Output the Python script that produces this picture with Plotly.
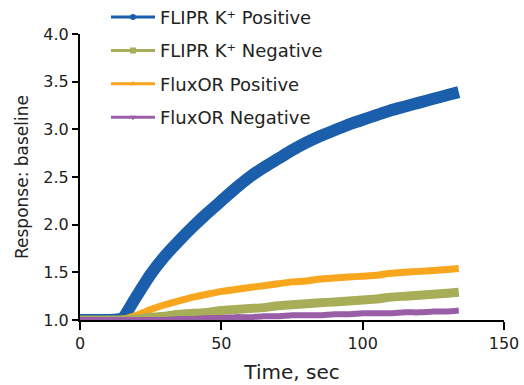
import plotly.graph_objects as go

time_sec = [0, 5, 10, 15, 20, 25, 30, 35, 40, 45, 50, 55, 60, 65, 70, 75, 80, 85,
            90, 95, 100, 105, 110, 115, 120, 125, 130, 134]
flipr_pos = [1.00, 1.00, 1.00, 1.02, 1.25, 1.48, 1.67, 1.83, 1.98, 2.12, 2.25, 2.38,
             2.50, 2.60, 2.69, 2.78, 2.86, 2.93, 2.99, 3.05, 3.10, 3.15, 3.20, 3.24,
             3.28, 3.32, 3.36, 3.39]
flipr_neg = [1.00, 1.00, 1.00, 1.00, 1.01, 1.03, 1.04, 1.06, 1.07, 1.08, 1.10, 1.11,
             1.12, 1.13, 1.15, 1.16, 1.17, 1.18, 1.19, 1.20, 1.21, 1.22, 1.24, 1.25,
             1.26, 1.27, 1.28, 1.29]
fluxor_pos = [1.00, 1.00, 1.00, 1.01, 1.05, 1.11, 1.16, 1.20, 1.24, 1.27, 1.30, 1.32,
              1.34, 1.36, 1.38, 1.40, 1.41, 1.43, 1.44, 1.45, 1.46, 1.47, 1.49, 1.50,
              1.51, 1.52, 1.53, 1.54]
fluxor_neg = [1.00, 1.00, 1.00, 1.00, 1.00, 1.00, 1.00, 1.01, 1.01, 1.02, 1.02, 1.03,
              1.03, 1.04, 1.04, 1.05, 1.05, 1.05, 1.06, 1.06, 1.07, 1.07, 1.07, 1.08,
              1.08, 1.09, 1.09, 1.10]

series_names = ["FLIPR K\u207a Positive", "FLIPR K\u207a Negative", "FluxOR Positive", "FluxOR Negative"]
series_values = [flipr_pos, flipr_neg, fluxor_pos, fluxor_neg]
x_ticks = [0, 50, 100, 150]
y_ticks = [1.0, 1.5, 2.0, 2.5, 3.0, 3.5, 4.0]
y_tick_labels = ["1.0", "1.5", "2.0", "2.5", "3.0", "3.5", "4.0"]

colors = ["#1b5eab", "#a8ad58", "#f9a61f", "#9a5ea6"]
widths = [12, 9, 7, 6]
symbols = ["circle", "square", "triangle-up", "triangle-down"]

FONT = "DejaVu Sans"
TXT = "#222222"
fig = go.Figure()

order = [0, 2, 1, 3]
for i in order:
    fig.add_trace(go.Scatter(
        x=time_sec, y=series_values[i], mode="lines",
        line=dict(color=colors[i], width=widths[i], shape="spline", smoothing=0.5),
        showlegend=False, cliponaxis=False, hoverinfo="skip",
    ))

for i in range(4):
    fig.add_trace(go.Scatter(
        x=[None], y=[None], mode="lines+markers", name=series_names[i],
        line=dict(color=colors[i], width=3),
        marker=dict(symbol=symbols[i], size=6, color=colors[i]),
        legendgroup=f"g{i}", showlegend=True,
    ))

fig.update_layout(
    width=524, height=385,
    margin=dict(l=80, r=20, t=34, b=65, autoexpand=False),
    paper_bgcolor="white", plot_bgcolor="white",
    font=dict(family=FONT, color=TXT, size=16),
    legend=dict(x=0.0613, y=1.123, xanchor="left", yanchor="top",
                bgcolor="rgba(0,0,0,0)", tracegroupgap=7,
                font=dict(size=18, color=TXT, family=FONT),
                itemwidth=44),
    xaxis=dict(range=[0, 150], tickvals=x_ticks, automargin=False,
               showgrid=False, zeroline=False, showline=True, linecolor="black",
               linewidth=2, ticks="outside", ticklen=8, tickwidth=2, tickcolor="black",
               tickfont=dict(size=16, family=FONT, color=TXT),
               title=dict(text="Time, sec", font=dict(size=20, family=FONT, color=TXT),
                          standoff=13)),
    yaxis=dict(range=[1, 4], tickvals=y_ticks, ticktext=y_tick_labels, automargin=False,
               showgrid=False, zeroline=False, showline=True, linecolor="black",
               linewidth=2, ticks="outside", ticklen=6, tickwidth=2, tickcolor="black",
               tickfont=dict(size=16, family=FONT, color=TXT),
               title=dict(text="Response: baseline", font=dict(size=17, family=FONT, color=TXT),
                          standoff=10)),
)

fig.write_html("out.html", config={"displayModeBar": False},
               post_script="document.body.style.margin='0';")
